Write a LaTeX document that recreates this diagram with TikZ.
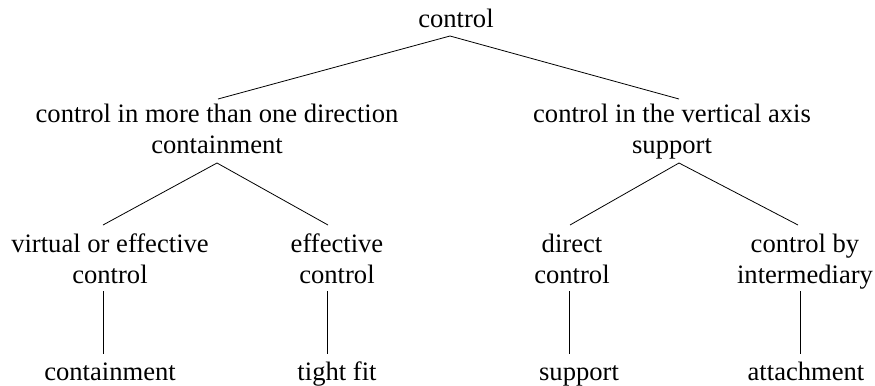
\documentclass[tikz,border=0pt]{standalone}
\usepackage{fontspec}
\setmainfont{Liberation Serif}
\usetikzlibrary{calc}
\begin{document}
\begin{tikzpicture}[x=1bp,y=-1bp,
  lbl/.style={inner sep=0pt,align=center,anchor=base,font=\fontsize{26.7}{30.5}\selectfont},
  edge/.style={draw=black,line width=0.8bp}]
\useasboundingbox (0,0) rectangle (875,385);
\node[lbl] (root) at (456,27) {control};
\node[lbl] (L) at (217,153) {control in more than one direction\\containment};
\node[lbl] (R) at (672,153) {control in the vertical axis\\support};
\node[lbl] (LL) at (110,283) {virtual or effective\\control};
\node[lbl] (LR) at (337,283) {effective\\control};
\node[lbl] (RL) at (572,283) {direct\\control};
\node[lbl] (RR) at (805,283) {control by\\intermediary};
\node[lbl] (LLc) at (110,380) {containment};
\node[lbl] (LRc) at (337,380) {tight fit};
\node[lbl] (RLc) at (579,380) {support};
\node[lbl] (RRc) at (806,380) {attachment};
\draw[edge] ($(root.base)+(-6,9)$) -- ($(L.base)+(1,-54)$);
\draw[edge] ($(root.base)+(-6,9)$) -- ($(R.base)+(7,-54)$);
\draw[edge] ($(L.base)+(0,10)$) -- ($(LL.base)+(-7,-58)$);
\draw[edge] ($(L.base)+(0,10)$) -- ($(LR.base)+(-9,-58)$);
\draw[edge] ($(R.base)+(7,10)$) -- ($(RL.base)+(-2,-58)$);
\draw[edge] ($(R.base)+(7,10)$) -- ($(RR.base)+(-7,-58)$);
\draw[edge] ($(LL.base)+(-7,8)$) -- ($(LLc.base)+(-7,-26)$);
\draw[edge] ($(LR.base)+(-10,8)$) -- ($(LRc.base)+(-10,-26)$);
\draw[edge] ($(RL.base)+(-3,8)$) -- ($(RLc.base)+(-10,-26)$);
\draw[edge] ($(RR.base)+(-5,8)$) -- ($(RRc.base)+(-6,-26)$);
\end{tikzpicture}
\end{document}
